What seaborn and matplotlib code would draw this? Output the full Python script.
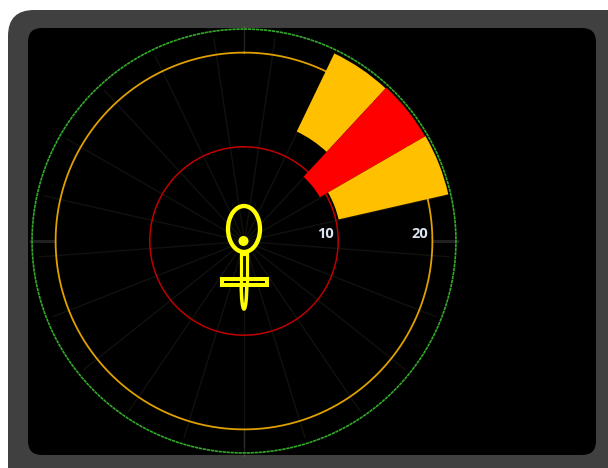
import numpy as np
import matplotlib
matplotlib.use('Agg')
import matplotlib.pyplot as plt
import seaborn as sns
from matplotlib.patches import FancyBboxPatch, Ellipse, Rectangle, Arc

# Radial sector chart on a dark rounded panel
sns.set_style('white')

W, H = 608, 468
cx, cy = 244, 241
px_per_unit = 9.42

n_sectors = 21
r_max = 23.0
ring_values = [10, 20, 22.5]
ring_colors = ['#c00000', '#e0a000', '#35a82c']
ring_widths = [1.1, 1.3, 1.2]
ring_styles = ['-', '-', (0, (2, 0.4))]

bar_sectors = [2, 3, 4]
bar_bottoms = [12.9, 9.3, 10.3]
bar_tops = [22.1, 22.2, 22.25]
bar_colors = ['#ffc000', '#ff0000', '#ffc000']

tick_values = [10, 20]
tick_labels = ['10', '20']

fig = plt.figure(figsize=(W / 100, H / 100), dpi=100, facecolor='white')

bg = fig.add_axes([0, 0, 1, 1])
bg.set_xlim(0, W)
bg.set_ylim(H, 0)
bg.axis('off')
bg.add_patch(FancyBboxPatch((8, 10), 640, 500, boxstyle='round,pad=0,rounding_size=26',
                            fc='#404040', ec='none'))
bg.add_patch(FancyBboxPatch((28, 28), 568, 427, boxstyle='round,pad=0,rounding_size=14',
                            fc='black', ec='none'))

R_px = r_max * px_per_unit
ax = fig.add_axes([(cx - R_px) / W, 1 - (cy + R_px) / H, 2 * R_px / W, 2 * R_px / H],
                  projection='polar', facecolor='none')
ax.set_theta_zero_location('N')
ax.set_theta_direction(-1)
ax.set_rlim(0, r_max)
ax.set_xticks([])
ax.set_yticks([])
ax.grid(False)
ax.spines['polar'].set_visible(False)

# spokes, on the sector edges
step = 2 * np.pi / n_sectors
edges = step / 2 + step * np.arange(n_sectors)
for e in edges:
    sns.lineplot(x=[e, e], y=[0, 21.9], ax=ax, color='#545440', lw=1.3, legend=False, zorder=1)

# short lighter stubs on the compass directions
for a in [0, np.pi / 2, np.pi, 3 * np.pi / 2]:
    sns.lineplot(x=[a, a], y=[20, 22.8], ax=ax, color='#a8a8a8', lw=1.6, legend=False, zorder=2)

theta = np.linspace(0, 2 * np.pi, 361)
for v, c, w, s in zip(ring_values, ring_colors, ring_widths, ring_styles):
    ax.plot(theta, np.full_like(theta, v), color=c, lw=w, ls=s, zorder=3)

centres = np.array(bar_sectors) * step
ax.bar(centres, np.array(bar_tops) - np.array(bar_bottoms), width=step, bottom=bar_bottoms,
       color=bar_colors, lw=0, zorder=4)

for v, t in zip(tick_values, tick_labels):
    ax.annotate(t, (np.pi / 2, v), xytext=(-3, 0), textcoords='offset points', color='#dce6f2',
                fontsize=10.5, fontweight='bold', family='Open Sans', ha='right', va='bottom', zorder=5)

# female symbol in the middle
ov = fig.add_axes([0, 0, 1, 1], facecolor='none')
ov.set_xlim(0, W)
ov.set_ylim(H, 0)
ov.axis('off')
yel = '#ffff00'
ov.add_patch(Ellipse((244, 229), 32, 46, fc='none', ec=yel, lw=3.1))
ov.add_patch(Ellipse((243.5, 241), 10, 10, fc=yel, ec='none'))
ov.add_patch(Rectangle((241.2, 254), 5.6, 30, fc='none', ec=yel, lw=2.3))
ov.add_patch(Arc((244, 284), 5.6, 50, theta1=0, theta2=180, ec=yel, lw=2.5))
ov.add_patch(Rectangle((221.5, 278.8), 45, 6.4, fc='none', ec=yel, lw=2.9))

fig.savefig('out.png', dpi=100, facecolor='white')
